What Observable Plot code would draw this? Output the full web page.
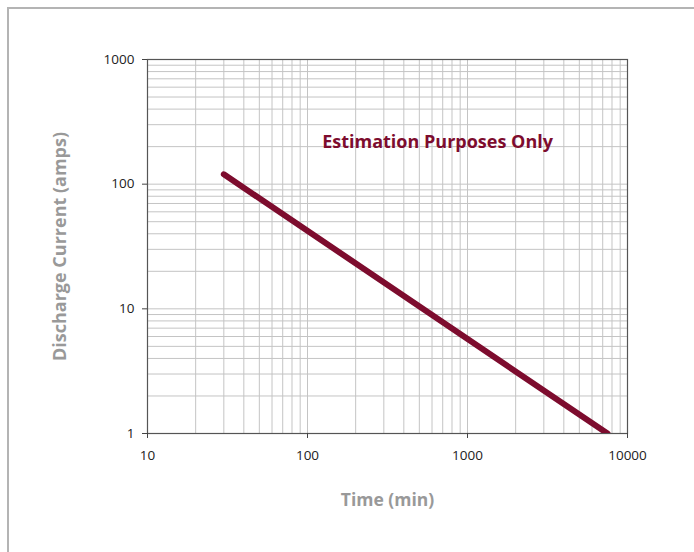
<!DOCTYPE html>
<html>
<head>
<meta charset="utf-8">
<script src="https://cdn.jsdelivr.net/npm/d3@7"></script>
<script src="https://cdn.jsdelivr.net/npm/@observablehq/plot@0.6"></script>
<style>
  html, body { margin: 0; padding: 0; background: #fff; }
  body { width: 694px; height: 552px; overflow: hidden; position: relative; }
  #border { position: absolute; left: 7px; top: 7px; width: 720px; height: 580px; border: 2px solid #b4b4b4; box-sizing: border-box; }
  #chart { position: absolute; left: 0; top: 0; }
  svg { font-family: "Open Sans", "Noto Sans", sans-serif; }
</style>
</head>
<body>
<div id="border"></div>
<div id="chart"></div>
<script>
// Data
const times = [30, 7500];          // minutes
const currents = [120, 1];         // amps
const xTickValues = [10, 100, 1000, 10000];
const yTickValues = [1, 10, 100, 1000];
const xTitle = "Time (min)";
const yTitle = "Discharge Current (amps)";
const note = "Estimation Purposes Only";
const notePos = {x: 650, y: 215};

const curve = times.map((t, i) => ({t, a: currents[i]}));
const xGrid = d3.scaleLog().domain([10, 10000]).ticks();
const yGrid = d3.scaleLog().domain([1, 1000]).ticks();

const plot = Plot.plot({
  width: 694,
  height: 552,
  marginLeft: 147,
  marginRight: 67,
  marginTop: 59,
  marginBottom: 119,
  style: {fontFamily: "'Open Sans', 'Noto Sans', sans-serif", fontSize: "13.5px", background: "transparent"},
  x: {type: "log", domain: [10, 10000]},
  y: {type: "log", domain: [1, 1000]},
  marks: [
    Plot.gridX(xGrid, {stroke: "#c4c4c4", strokeOpacity: 1, strokeWidth: 1}),
    Plot.gridY(yGrid, {stroke: "#c4c4c4", strokeOpacity: 1, strokeWidth: 1}),
    Plot.frame({stroke: "#555", strokeWidth: 1.2}),
    Plot.axisX(xTickValues, {tickSize: 5, tickPadding: 12, fontSize: 13.5, stroke: "#444", fill: "#222", tickFormat: d => String(d), label: null}),
    Plot.axisY(yTickValues, {tickSize: 5, tickPadding: 8, fontSize: 13.5, stroke: "#444", fill: "#222", tickFormat: d => String(d), label: null}),
    Plot.line(curve, {x: "t", y: "a", stroke: "#7d0c2e", strokeWidth: 6, strokeLinecap: "round", clip: true}),
    Plot.text([note], {x: () => notePos.x, y: () => notePos.y, text: d => d, fill: "#7d0c2e", fontSize: 18, fontWeight: "bold"}),
    Plot.text([xTitle], {frameAnchor: "bottom", dy: 67, lineAnchor: "middle", text: d => d, fill: "#999", fontSize: 17.5, fontWeight: "bold"}),
    Plot.text([yTitle], {frameAnchor: "left", dx: -87, rotate: -90, textAnchor: "middle", lineAnchor: "middle", text: d => d, fill: "#999", fontSize: 18, fontWeight: "bold"})
  ]
});
document.getElementById("chart").appendChild(plot);
</script>
</body>
</html>
